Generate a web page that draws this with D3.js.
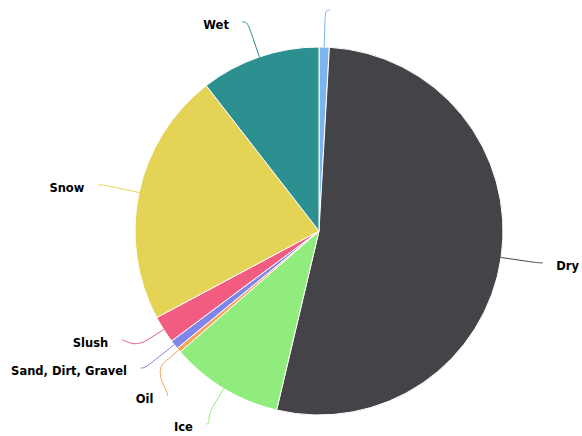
<!DOCTYPE html>
<html>
<head>
<meta charset="utf-8">
<script src="https://cdn.jsdelivr.net/npm/d3@7"></script>
<style>
  html, body { margin: 0; padding: 0; background: #ffffff; }
  svg { display: block; }
</style>
</head>
<body>
<script>
// ---- data ----
const categories = ["", "Dry", "Ice", "Oil", "Sand, Dirt, Gravel", "Slush", "Snow", "Wet"];
const values = [0.9, 52.8, 9.9, 0.4, 0.8, 2.4, 22.3, 10.5];
const colors = ["#7cb5ec", "#434348", "#90ed7d", "#f7a35c", "#8085e9", "#f15c80", "#e4d354", "#2b908f"];

// ---- layout ----
const W = 582, H = 436;
const cx = 319, cy = 231, r = 184;
const labelDistance = 37, R = r + labelDistance;
const connectorOffset = 18, connectorPadding = 5, textGap = 13.5;
const boxSize = 28, mergeGap = 32, topBound = 10, bottomBound = 424;

const svg = d3.select("body").append("svg").attr("width", W).attr("height", H);

const data = categories.map((c, i) => ({ name: c, value: values[i], color: colors[i] }));
const pie = d3.pie().value(d => d.value).sort(null);
const arcs = pie(data);
const arc = d3.arc().innerRadius(0).outerRadius(r);

const g = svg.append("g").attr("transform", `translate(${cx},${cy})`);
g.selectAll("path.slice").data(arcs).join("path")
  .attr("class", "slice")
  .attr("d", arc)
  .attr("fill", d => d.data.color)
  .attr("stroke", "#ffffff")
  .attr("stroke-width", 1)
  .attr("stroke-linejoin", "round");

// ---- label positions (natural + anti-collision) ----
const labels = arcs.map(a => {
  const mid = (a.startAngle + a.endAngle) / 2;
  const s = Math.sin(mid), c = Math.cos(mid);
  return {
    arc: a, mid, left: mid > Math.PI,
    natY: cy - R * c,
    touch: { x: cx + r * s, y: cy - r * c },
    brk: { x: cx + (r + connectorOffset) * s, y: cy - (r + connectorOffset) * c }
  };
});

function distribute(items) {
  items.sort((a, b) => a.natY - b.natY);
  let groups = items.map(it => ({ items: [it] }));
  function place(gr) {
    const t = gr.items.map(d => d.natY);
    const center = (d3.min(t) + d3.max(t)) / 2;
    const n = gr.items.length;
    let first = center - (n - 1) / 2 * boxSize;
    let last = first + (n - 1) * boxSize;
    if (last > bottomBound) first -= (last - bottomBound);
    if (first < topBound) first = topBound;
    gr.items.forEach((d, k) => { d.y = first + k * boxSize; });
    gr.first = gr.items[0].y; gr.last = gr.items[n - 1].y;
  }
  let changed = true;
  while (changed) {
    changed = false;
    groups.forEach(place);
    for (let i = 0; i < groups.length - 1; i++) {
      if (groups[i + 1].first - groups[i].last < mergeGap) {
        groups[i].items = groups[i].items.concat(groups[i + 1].items);
        groups.splice(i + 1, 1);
        changed = true;
        break;
      }
    }
  }
  groups.forEach(place);
}
distribute(labels.filter(d => d.left));
distribute(labels.filter(d => !d.left));

labels.forEach(d => {
  const dy = d.y - cy;
  const dx = Math.sqrt(Math.max(0, R * R - dy * dy));
  d.x = cx + (d.left ? -1 : 1) * (dx + connectorPadding);
});

// ---- connectors ----
svg.append("g").selectAll("path.conn").data(labels).join("path")
  .attr("class", "conn")
  .attr("fill", "none")
  .attr("stroke", d => d.arc.data.color)
  .attr("stroke-width", 1)
  .attr("d", d => {
    const p = d3.path();
    p.moveTo(d.x, d.y);
    p.bezierCurveTo(d.x + (d.left ? 5 : -5), d.y,
      2 * d.brk.x - d.touch.x, 2 * d.brk.y - d.touch.y,
      d.brk.x, d.brk.y);
    p.lineTo(d.touch.x, d.touch.y);
    return p.toString();
  });

// ---- label texts ----
svg.append("g").selectAll("text").data(labels.filter(d => d.arc.data.name !== "")).join("text")
  .attr("x", d => d.x + (d.left ? -textGap : textGap))
  .attr("y", d => d.y + 7)
  .attr("text-anchor", d => d.left ? "end" : "start")
  .attr("font-family", "'DejaVu Sans', sans-serif")
  .attr("font-weight", "bold")
  .attr("font-size", "11.5px")
  .attr("fill", "#000000")
  .attr("stroke", "#ffffff")
  .attr("stroke-width", 2)
  .attr("stroke-linejoin", "round")
  .attr("paint-order", "stroke")
  .text(d => d.arc.data.name);
</script>
</body>
</html>
